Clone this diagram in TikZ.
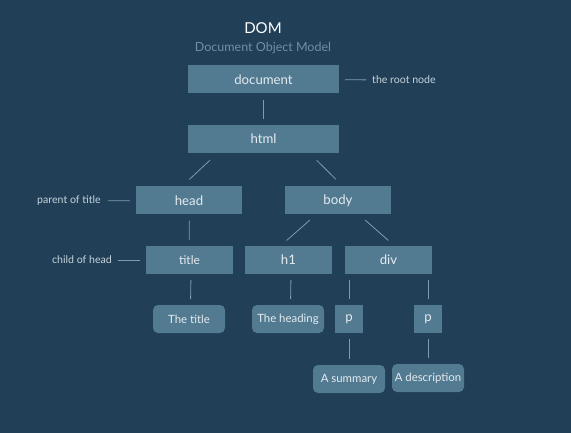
\documentclass[tikz,border=0pt]{standalone}
\usepackage{fontspec}
\setmainfont{Lato}
\usepackage{xcolor}
\usetikzlibrary{positioning,calc}

\definecolor{bgblue}{HTML}{213F57}
\definecolor{boxblue}{HTML}{527A91}
\definecolor{linkblue}{HTML}{7C9DB0}
\definecolor{boxtext}{HTML}{E4ECF1}
\definecolor{notetext}{HTML}{C5D4DD}
\definecolor{subtext}{HTML}{6F90A4}

\begin{document}
\begin{tikzpicture}[x=1pt,y=-1pt,
  elem/.style={fill=boxblue,text=boxtext,inner sep=0pt,minimum height=28pt,font=\fontsize{13.2}{15}\selectfont},
  leaf/.style={elem,rounded corners=5pt,minimum width=72pt,font=\fontsize{11.4}{13}\selectfont},
  link/.style={draw=linkblue,line width=0.8pt,shorten <=6pt,shorten >=6pt},
  note/.style={text=notetext,font=\fontsize{10.6}{12}\selectfont,inner sep=0pt}]
% Background
\fill[bgblue] (0,0) rectangle (571,433);
\useasboundingbox (0,0) rectangle (571,433);

% Heading
\node[text=white,font=\fontsize{15}{17}\selectfont] (heading) at (263,28) {DOM};
\node[text=subtext,font=\fontsize{12.5}{14}\selectfont] (subheading) at (263,48) {Document Object Model};

% Tree nodes
\node[elem,minimum width=151pt] (document) at (263.5,79.5) {document};
\node[elem,minimum width=151pt] (html) at (263.5,139) {html};
\node[elem,minimum width=106pt] (head) at (189,200.5) {head};
\node[elem,minimum width=106pt] (body) at (338,200.5) {body};
\node[elem,minimum width=87pt,font=\fontsize{12}{14}\selectfont] (title) at (189.5,260) {title};
\node[elem,minimum width=87pt] (h1) at (288.5,260) {h1};
\node[elem,minimum width=87pt] (div) at (388.5,260) {div};
\node[elem,minimum width=28pt] (p1) at (349,319) {p};
\node[elem,minimum width=28pt] (p2) at (428,319) {p};

% Text leaves
\node[leaf] (titletext) at (189,319) {The title};
\node[leaf] (headingtext) at (288,319) {The heading};
\node[leaf] (summary) at (349,379) {A summary};
\node[leaf] (description) at (428,378) {A description};

% Connectors
\draw[link] (document) -- (html);
\draw[link,shorten <=10pt,shorten >=10pt] ([xshift=-46pt]html.south) -- ([xshift=-7pt]head.north);
\draw[link,shorten <=10pt,shorten >=10pt] ([xshift=46pt]html.south) -- ([xshift=5pt]body.north);
\draw[link] (head) -- (title);
\draw[link,shorten <=8pt,shorten >=8pt] ([xshift=-22pt]body.south) -- ([xshift=-8pt]h1.north);
\draw[link,shorten <=8pt,shorten >=8pt] ([xshift=21pt]body.south) -- ([xshift=6pt]div.north);
\draw[link] ([xshift=1.5pt]title.south) -- ([xshift=1.5pt]titletext.north);
\draw[link] ([xshift=2.5pt]h1.south) -- ([xshift=2.5pt]headingtext.north);
\draw[link] (div.south -| p1) -- (p1);
\draw[link] (div.south -| p2) -- (p2);
\draw[link] (p1) -- (summary);
\draw[link] (p2) -- (description.north -| p2);

% Side notes
\node[note,anchor=west] (rootnote) at (372,80) {the root node};
\node[note,anchor=east] (parentnote) at (101,201) {parent of title};
\node[note,anchor=east] (childnote) at (112,260) {child of head};
\draw[link] (document) -- (rootnote);
\draw[link,shorten <=7pt] (parentnote) -- (head);
\draw[link,shorten <=6pt] (childnote) -- (title);

\end{tikzpicture}
\end{document}
